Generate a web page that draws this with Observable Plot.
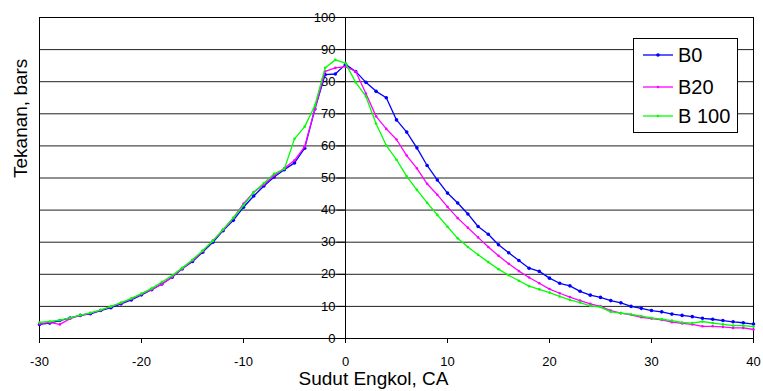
<!DOCTYPE html>
<html><head><meta charset="utf-8">
<script src="https://cdn.jsdelivr.net/npm/d3@7"></script>
<script src="https://cdn.jsdelivr.net/npm/@observablehq/plot@0.6"></script>
<style>
body{margin:0;background:#fff;}
#wrap{position:relative;width:763px;height:391px;font-family:"Liberation Sans",Arial,sans-serif;}
#legend{position:absolute;left:633px;top:38px;width:103px;height:93px;border:1px solid #000;background:#fff;}
#legend svg{display:block;}
</style></head><body>
<div id="wrap"><div id="chart"></div><div id="legend"></div></div>
<script>
const angles = [-30,-29,-28,-27,-26,-25,-24,-23,-22,-21,-20,-19,-18,-17,-16,-15,-14,-13,-12,-11,-10,-9,-8,-7,-6,-5,-4,-3,-2,-1,0,1,2,3,4,5,6,7,8,9,10,11,12,13,14,15,16,17,18,19,20,21,22,23,24,25,26,27,28,29,30,31,32,33,34,35,36,37,38,39,40];
const seriesNames = ["B0", "B20", "B 100"];
const seriesColors = ["#0000ff", "#ff00ff", "#00ff00"];
const b0 = [4.4,4.8,5.6,6.4,7.2,7.7,8.7,9.6,10.8,12.0,13.6,15.2,17.0,19.1,21.7,24.0,26.9,30.0,33.6,36.8,40.9,44.4,47.5,50.3,52.6,54.7,59.3,71.5,82.2,82.4,85.4,83.2,79.8,77.0,75.0,68.1,64.3,59.4,53.9,49.4,45.3,42.2,38.8,34.9,32.5,29.2,26.7,24.3,21.9,20.9,18.8,17.2,16.4,14.7,13.5,12.8,11.8,11.1,10.0,9.4,8.7,8.3,7.6,7.2,6.8,6.3,6.0,5.6,5.2,4.9,4.5];
const b20 = [4.6,5.0,4.4,6.2,7.2,7.9,8.8,9.9,11.0,12.3,13.8,15.3,16.9,19.2,21.8,24.3,27.2,30.5,33.8,37.5,42.0,45.6,48.0,50.8,53.0,55.5,59.8,71.5,83.2,84.3,84.7,83.2,76.3,69.2,65.3,62.0,57.0,53.0,48.2,44.8,41.0,37.5,34.5,31.5,28.5,25.8,23.3,21.0,19.0,17.2,15.4,14.1,12.9,11.8,10.8,10.0,8.7,7.9,7.4,6.6,6.2,5.8,5.1,4.7,4.4,3.8,3.8,3.6,3.3,3.3,2.8];
const b100 = [5.0,5.3,5.7,6.4,7.3,8.0,8.9,10.0,11.2,12.5,14.0,15.6,17.6,19.6,22.0,24.5,27.4,30.4,34.0,37.6,41.5,45.5,48.4,51.3,52.8,62.2,66.0,72.6,84.3,86.8,85.8,79.8,75.4,66.9,60.1,55.7,50.5,46.3,42.3,38.5,34.8,31.2,28.5,26.1,23.8,21.6,19.7,18.0,16.3,15.3,14.3,13.1,12.0,11.2,10.2,9.8,8.3,7.9,7.5,7.0,6.4,6.0,5.6,5.0,4.8,5.3,4.8,4.4,4.0,4.0,3.7];
const xTicks = [-30,-20,-10,0,10,20,30,40];
const yTicks = [0,10,20,30,40,50,60,70,80,90,100];
const gridY = [10,20,30,40,50,60,70,80,90];
const xTitle = "Sudut Engkol, CA";
const yTitle = "Tekanan, bars";

const allValues = [b0, b20, b100];
const rows = [];
allValues.forEach((vals, si) => vals.forEach((v, i) => rows.push({series: seriesNames[si], x: angles[i], y: v})));

const seriesMarks = seriesNames.flatMap((n, i) => {
  const d = rows.filter(r => r.series === n);
  return [
    Plot.line(d, {x: "x", y: "y", stroke: seriesColors[i], strokeWidth: 1.3}),
    Plot.dot(d, {x: "x", y: "y", fill: seriesColors[i], r: i === 0 ? 1.8 : 1.3, stroke: "none"})
  ];
});

const chart = Plot.plot({
  width: 763, height: 391,
  marginLeft: 39, marginRight: 10, marginTop: 17, marginBottom: 53,
  style: {fontFamily: "'Liberation Sans', Arial, sans-serif", fontSize: "13px", color: "#000", background: "#fff"},
  x: {domain: [-30, 40], ticks: xTicks, tickSize: 5, tickPadding: 13, label: null, tickFormat: d => String(d)},
  y: {domain: [0, 100], axis: null},
  marks: [
    Plot.ruleY(gridY, {stroke: "#222", strokeWidth: 1}),
    Plot.frame({stroke: "#000", strokeWidth: 1}),
    Plot.ruleX([0], {stroke: "#000"}),
    Plot.ruleY(yTicks, {y: d => d, x1: -0.85, x2: 0, stroke: "#000"}),
    Plot.text(yTicks, {x: 0, y: d => d, text: d => String(d), textAnchor: "end", dx: -10, fontSize: 13}),
    ...seriesMarks,
    Plot.text([xTitle], {frameAnchor: "bottom", dx: -23, dy: 46, fontSize: 19}),
    Plot.text([yTitle], {frameAnchor: "left", rotate: -90, dx: -19, fontSize: 19})
  ]
});
document.getElementById("chart").appendChild(chart);

// legend
const lg = d3.select("#legend").append("svg").attr("width", 103).attr("height", 93);
const rowY = [16, 48, 77];
seriesNames.forEach((n, i) => {
  const g = lg.append("g").attr("transform", `translate(0,${rowY[i]})`);
  g.append("line").attr("x1", 9).attr("x2", 39).attr("y1", 0).attr("y2", 0).attr("stroke", seriesColors[i]).attr("stroke-width", 1.3);
  g.append("circle").attr("cx", 24).attr("cy", 0).attr("r", i === 0 ? 1.8 : 1.3).attr("fill", seriesColors[i]);
  g.append("text").attr("x", 44).attr("y", 7).attr("font-size", 20).attr("font-family", "'Liberation Sans', Arial, sans-serif").text(n);
});
</script>
</body></html>
